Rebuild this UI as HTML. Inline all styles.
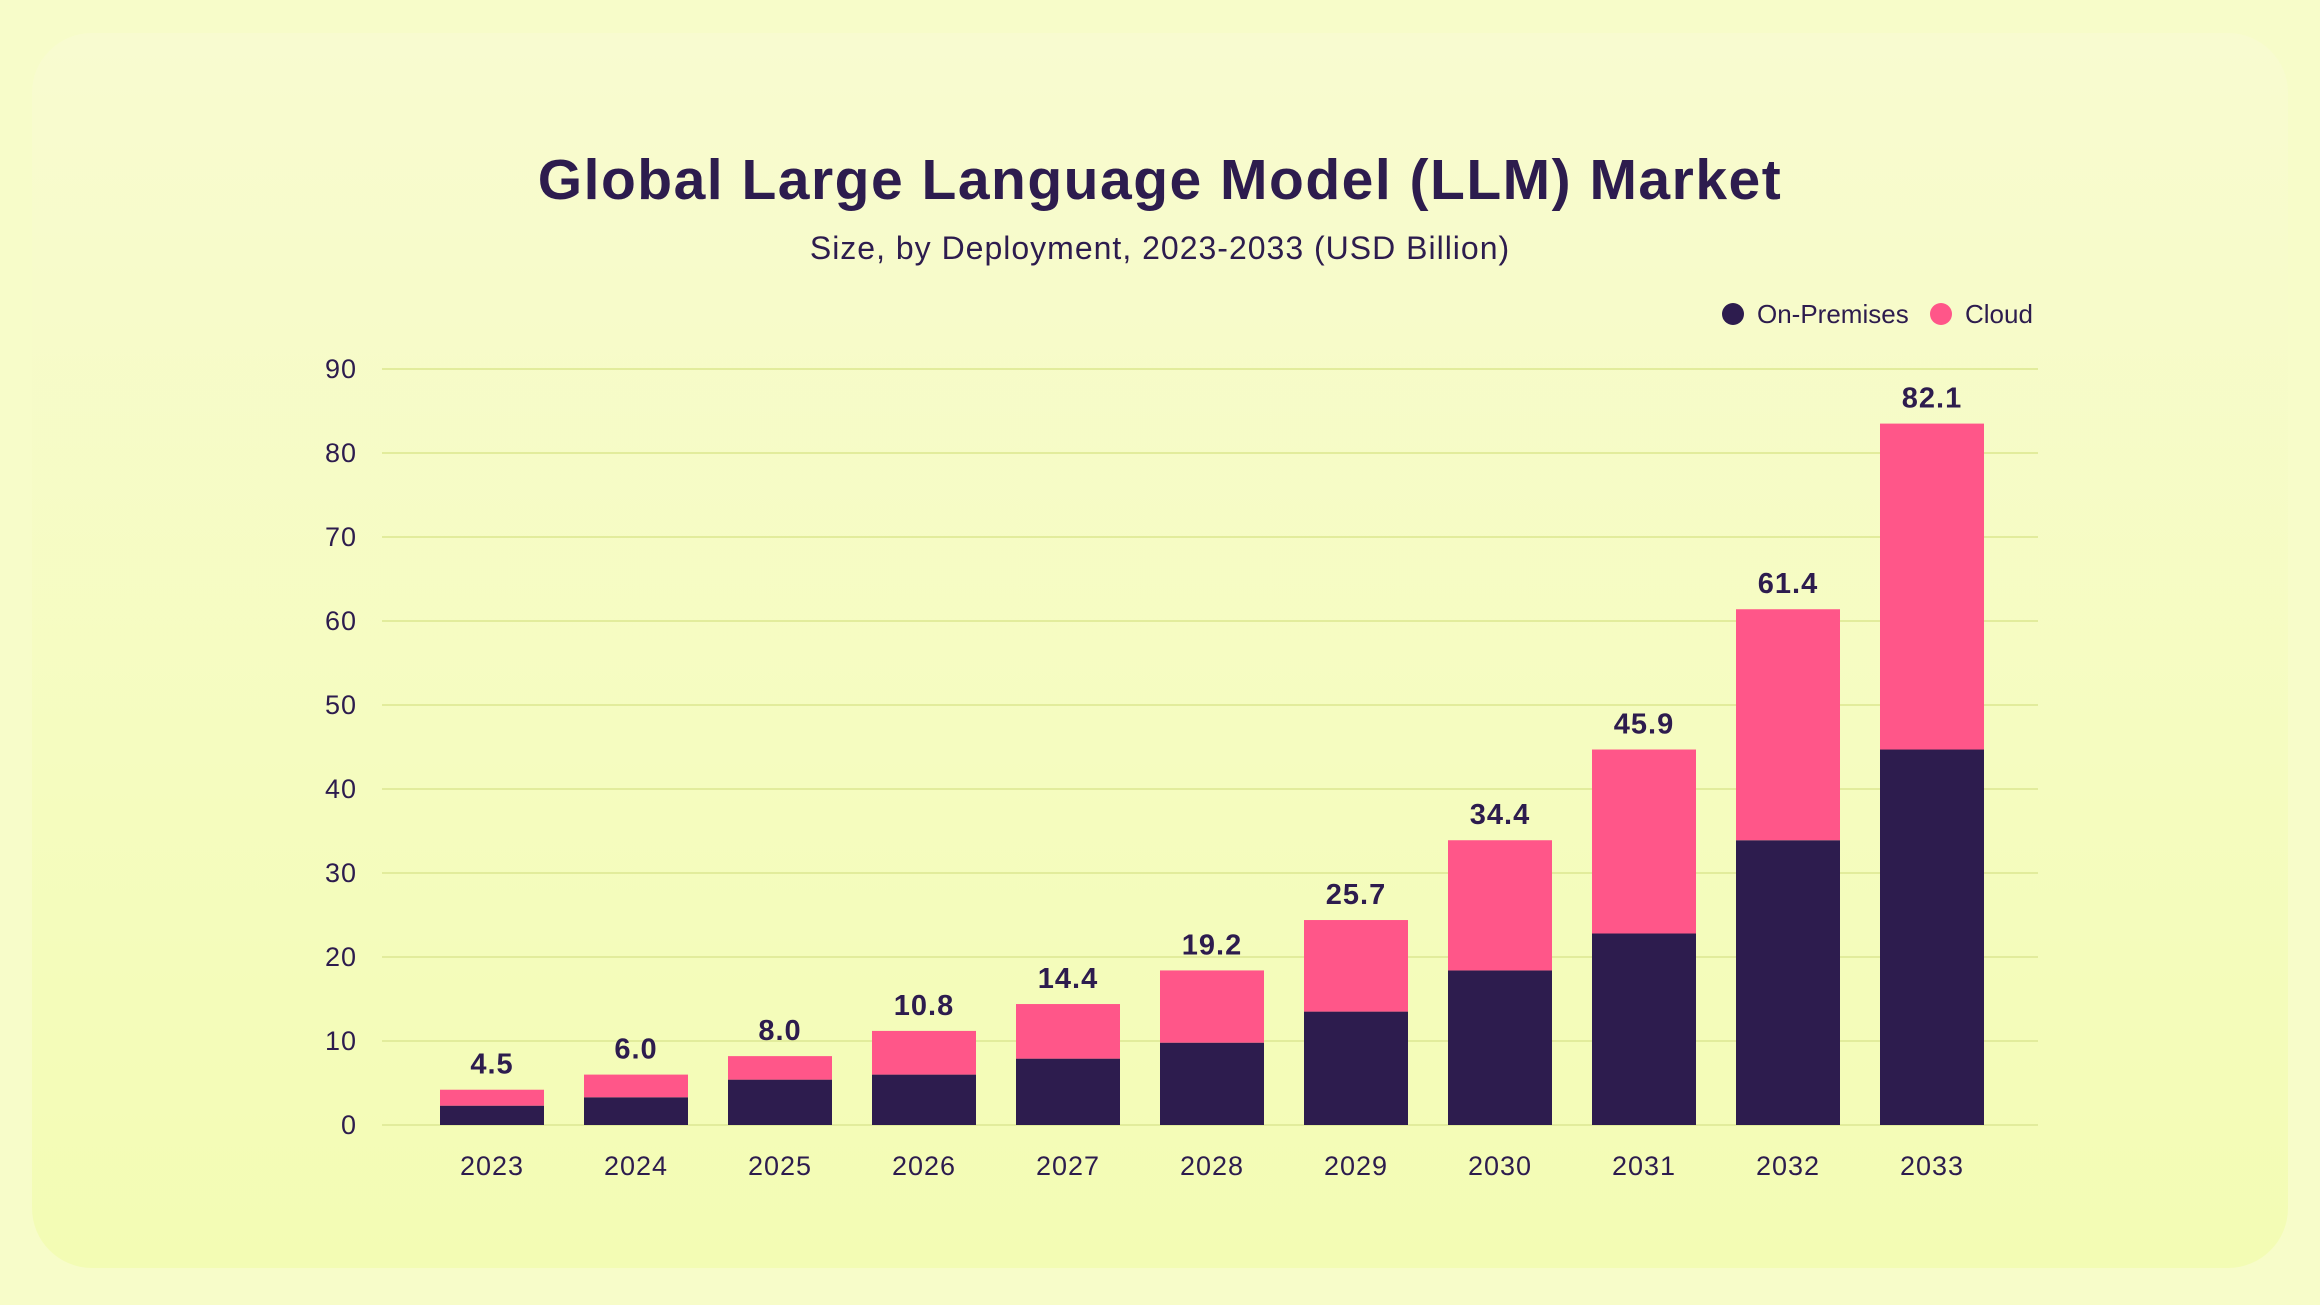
<!DOCTYPE html>
<html><head><meta charset="utf-8"><style>
html,body{margin:0;padding:0;}
body{width:2320px;height:1300px;background:#f7fcc9;overflow:hidden;font-family:"Liberation Sans",sans-serif;}
</style></head><body>
<svg width="2320" height="1300" xmlns="http://www.w3.org/2000/svg" id="svg">
<defs><linearGradient id="cg" x1="0" y1="0" x2="0" y2="1"><stop offset="0" stop-color="#f8fbd0"/><stop offset="1" stop-color="#f3fcb4"/></linearGradient></defs>
<rect x="32" y="33" width="2256" height="1235" rx="60" fill="url(#cg)"/>
<text x="1160" y="199" text-anchor="middle" font-size="57" font-weight="bold" letter-spacing="1.5" fill="#2d1c4e">Global Large Language Model (LLM) Market</text>
<text x="1160" y="259" text-anchor="middle" font-size="32" letter-spacing="1" fill="#2d1c4e">Size, by Deployment, 2023-2033 (USD Billion)</text>
<g>
<circle cx="1733" cy="314" r="11" fill="#2d1c4e"/>
<text x="1757" y="323" font-size="26" fill="#2d1c4e">On-Premises</text>
<circle cx="1941" cy="314" r="11" fill="#ff5689"/>
<text x="1965" y="323" font-size="26" fill="#2d1c4e">Cloud</text>
</g>
<g id="grid"></g><g id="bars"></g>
</svg>
<script>
const categories=["2023","2024","2025","2026","2027","2028","2029","2030","2031","2032","2033"];
const onPremises=[2.3,3.3,5.4,6.0,7.9,9.8,13.5,18.4,22.8,33.9,44.7];
const cloud=[1.9,2.7,2.8,5.2,6.5,8.6,10.9,15.5,21.9,27.5,38.8];
const totalLabels=["4.5","6.0","8.0","10.8","14.4","19.2","25.7","34.4","45.9","61.4","82.1"];
const yTicks=[0,10,20,30,40,50,60,70,80,90];
const NS="http://www.w3.org/2000/svg";
const y0=1125,pxPer=8.4,left=382,right=2038,step=144,firstX=440,bw=104;
function y(v){return y0-v*pxPer;}
function x(i){return firstX+i*step;}
function mk(t,a,p){const e=document.createElementNS(NS,t);for(const k in a)e.setAttribute(k,a[k]);p.appendChild(e);return e;}
const g=document.getElementById('grid'),b=document.getElementById('bars');
yTicks.forEach(t=>{
 const l=mk('line',{x1:left,x2:right,y1:y(t),y2:y(t),stroke:'#e2ec9c','stroke-width':2},g);
 
 
 const tx=mk('text',{x:357,y:y(t)+9,'text-anchor':'end','font-size':27,'letter-spacing':1,fill:'#2d1c4e'},g);
 tx.textContent=t;
 
 
});
categories.forEach((c,i)=>{
 const r1=mk('rect',{x:x(i),y:y(onPremises[i]),width:bw,height:onPremises[i]*pxPer,fill:'#2d1c4e'},b);
 
 
 const tot=onPremises[i]+cloud[i];
 const r2=mk('rect',{x:x(i),y:y(tot),width:bw,height:cloud[i]*pxPer,fill:'#ff5689'},b);
 
 
 const vl=mk('text',{x:x(i)+bw/2,y:y(tot)-16,'text-anchor':'middle','font-size':29,'font-weight':'bold','letter-spacing':1,fill:'#2d1c4e'},b);
 vl.textContent=totalLabels[i];
 
 
 const xl=mk('text',{x:x(i)+bw/2,y:1175,'text-anchor':'middle','font-size':27,'letter-spacing':1,fill:'#2d1c4e'},b);
 xl.textContent=c;
 
 
});
</script>
</body></html>
